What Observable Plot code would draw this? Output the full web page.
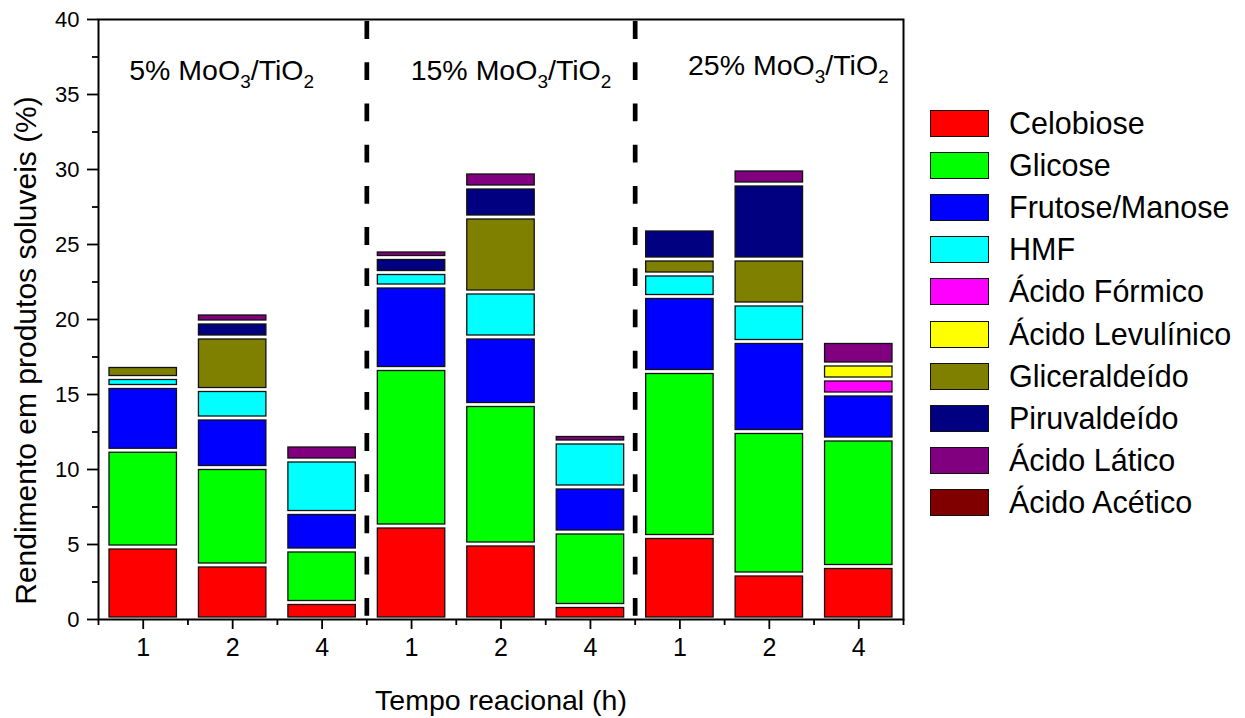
<!DOCTYPE html>
<html>
<head>
<meta charset="utf-8">
<script src="https://cdn.jsdelivr.net/npm/d3@7"></script>
<script src="https://cdn.jsdelivr.net/npm/@observablehq/plot@0.6"></script>
<style>
  html, body { margin: 0; padding: 0; background: #fff; }
  body { font-family: "Liberation Sans", Arial, sans-serif; }
  #wrap { position: relative; width: 1245px; height: 718px; overflow: hidden; }
  #legend { position: absolute; left: 930px; top: 102.5px; }
  .row { display: flex; align-items: center; height: 42.1px; }
  .sw { box-sizing: border-box; width: 59px; height: 27px; border: 1.5px solid #111; }
  .lb { margin-left: 20px; font-size: 30.5px; color: #000; white-space: nowrap; }
</style>
</head>
<body>
<div id="wrap"><div id="chart"></div><div id="legend"></div></div>
<script>
// ---- data ----
const products = ["Celobiose", "Glicose", "Frutose/Manose", "HMF", "Ácido Fórmico",
  "Ácido Levulínico", "Gliceraldeído", "Piruvaldeído", "Ácido Lático", "Ácido Acético"];
const colors = ["#ff0000", "#00ff00", "#0000ff", "#00ffff", "#ff00ff",
  "#ffff00", "#808000", "#000080", "#800080", "#800000"];
const timeLabels = ["1", "2", "4", "1", "2", "4", "1", "2", "4"];
const groupLabels = ["5% MoO3/TiO2", "15% MoO3/TiO2", "25% MoO3/TiO2"];

// bars: 5% (1h,2h,4h), 15% (1h,2h,4h), 25% (1h,2h,4h)
const celobiose     = [4.8, 3.6, 1.1, 6.2, 5.0, 0.9, 5.5, 3.0, 3.5];
const glicose       = [6.45, 6.5, 3.5, 10.5, 9.3, 4.9, 11.0, 9.5, 8.5];
const frutose       = [4.25, 3.3, 2.5, 5.5, 4.5, 3.0, 5.0, 6.0, 3.0];
const hmf           = [0.6, 1.9, 3.5, 0.9, 3.0, 3.0, 1.5, 2.5, 0];
const acFormico     = [0, 0, 0, 0, 0, 0, 0, 0, 1.0];
const acLevulinico  = [0, 0, 0, 0, 0, 0, 0, 0, 1.0];
const gliceraldeido = [0.8, 3.5, 0, 0, 5.0, 0, 1.0, 3.0, 0];
const piruvaldeido  = [0, 1.0, 0, 1.0, 2.0, 0, 2.0, 5.0, 0];
const acLatico      = [0, 0.6, 1.0, 0.5, 1.0, 0.5, 0, 1.0, 1.5];
const acAcetico     = [0, 0, 0, 0, 0, 0, 0, 0, 0];

const series = [celobiose, glicose, frutose, hmf, acFormico, acLevulinico,
  gliceraldeido, piruvaldeido, acLatico, acAcetico];

const yLabel = "Rendimento em produtos soluveis (%)";
const xLabel = "Tempo reacional (h)";

// ---- table ----
const data = [];
products.forEach((p, k) => series[k].forEach((v, i) => {
  if (v > 0) data.push({bar: i, product: p, value: v});
}));

const centers = timeLabels.map((_, i) => i + 0.5);
const bounds = d3.range(0, timeLabels.length + 1);

const plot = Plot.plot({
  width: 1245,
  height: 718,
  marginLeft: 98,
  marginRight: 342,
  marginTop: 19,
  marginBottom: 99,
  x: {domain: [0, timeLabels.length], axis: null},
  y: {domain: [0, 40], axis: null},
  color: {domain: products, range: colors},
  style: {fontFamily: '"Liberation Sans", Arial, sans-serif', fontSize: "22px", color: "#000", background: "#fff"},
  marks: [
    Plot.rectY(data, {
      x1: d => d.bar, x2: d => d.bar + 1, y: "value", fill: "product",
      stroke: "#111", strokeWidth: 1.3,
      insetLeft: 11, insetRight: 11, insetTop: 2, insetBottom: 2
    }),
    Plot.ruleX([3, 6], {y1: 39.86, y2: 0, stroke: "#000", strokeWidth: 4.7, strokeDasharray: "17.8,23.4"}),
    Plot.axisY({ticks: d3.range(0, 41, 5), label: null, tickSize: 11, tickPadding: 8, strokeWidth: 1.8, fontSize: 22}),
    Plot.axisY({ticks: d3.range(2.5, 40, 5), label: null, tickSize: 6, tickFormat: () => "", strokeWidth: 1.8}),
    Plot.axisX({ticks: centers, label: null, tickSize: 10, tickPadding: 9, strokeWidth: 1.8, fontSize: 25,
      tickFormat: d => timeLabels[Math.floor(d)]}),
    Plot.axisX({ticks: bounds, label: null, tickSize: 6, tickFormat: () => "", strokeWidth: 1.8}),
    Plot.frame({stroke: "#000", strokeWidth: 2}),
    Plot.text([groupLabels[0]], {x: 1.5, y: 36.6, dx: -11, text: d => d, fontSize: 28.5}),
    Plot.text([groupLabels[1]], {x: 4.5, y: 36.6, dx: 10, text: d => d, fontSize: 28.5}),
    Plot.text([groupLabels[2]], {x: 7.5, y: 36.9, dx: 19, text: d => d, fontSize: 28.5}),
    Plot.text([xLabel], {frameAnchor: "bottom", textAnchor: "middle", lineAnchor: "middle", dy: 81, text: d => d, fontSize: 28.5}),
    Plot.text([yLabel], {frameAnchor: "left", textAnchor: "middle", lineAnchor: "middle", dx: -72, dy: 31, rotate: -90, text: d => d, fontSize: 30})
  ]
});

document.getElementById("chart").appendChild(plot);

// subscripts in MoO3 / TiO2
const NS = "http://www.w3.org/2000/svg";
plot.querySelectorAll("text").forEach(t => {
  const m = t.textContent.match(/^(.*MoO)3\/TiO2$/);
  if (!m) return;
  t.textContent = "";
  const add = (txt, attrs) => {
    const s = document.createElementNS(NS, "tspan");
    s.textContent = txt;
    for (const k in attrs) s.setAttribute(k, attrs[k]);
    t.appendChild(s);
  };
  add(m[1], {});
  add("3", {dy: 8, "font-size": 19});
  add("/TiO", {dy: -8});
  add("2", {dy: 8, "font-size": 19});
});

// legend
const legend = document.getElementById("legend");
products.forEach((p, k) => {
  const row = document.createElement("div");
  row.className = "row";
  const sw = document.createElement("div");
  sw.className = "sw";
  sw.style.background = colors[k];
  const lb = document.createElement("span");
  lb.className = "lb";
  lb.textContent = p;
  row.appendChild(sw);
  row.appendChild(lb);
  legend.appendChild(row);
});
</script>
</body>
</html>
